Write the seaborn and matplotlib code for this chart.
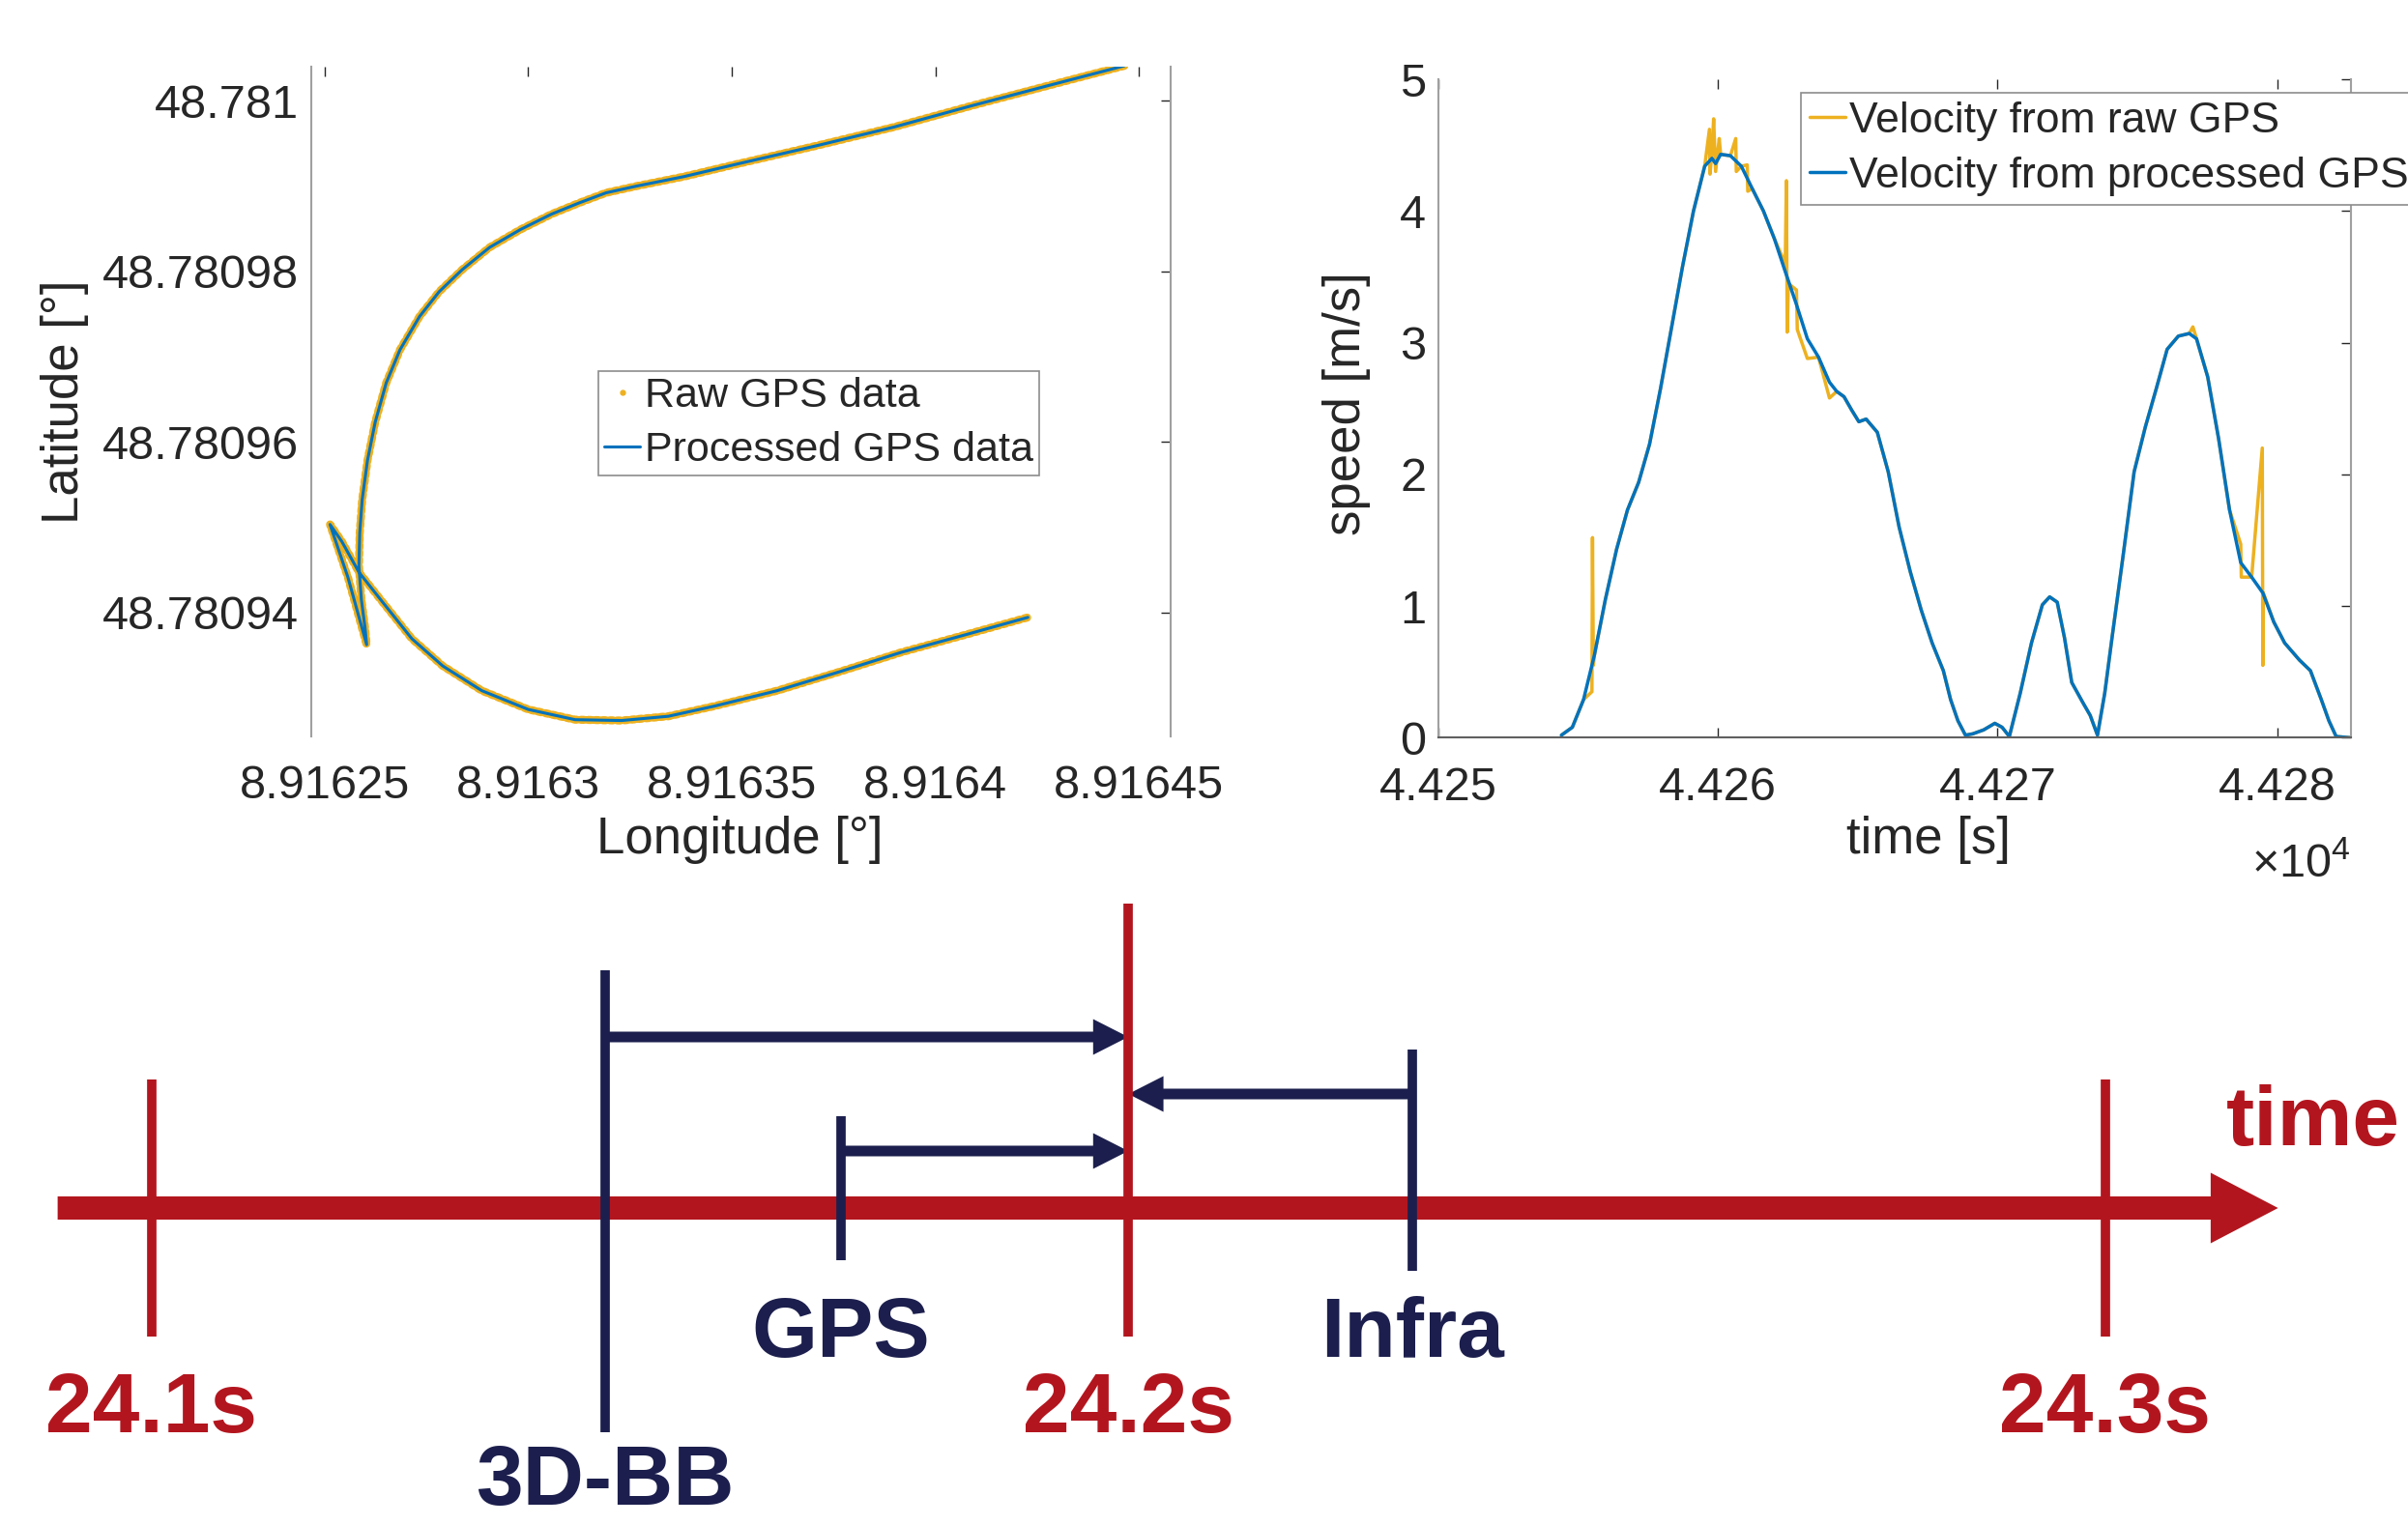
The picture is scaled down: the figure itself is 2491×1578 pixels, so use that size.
import matplotlib
matplotlib.use("Agg")
import matplotlib.pyplot as plt
import seaborn as sns
from matplotlib.lines import Line2D

# ---------------- data ----------------
# GPS track, one continuous drive (longitude / latitude in degrees)
track_lon = [8.9164464, 8.9164279, 8.9164088, 8.9163897, 8.9163706, 8.9163515, 8.9163382,
             8.9163267, 8.9163191, 8.9163124, 8.9163057, 8.9162981, 8.9162905, 8.9162838,
             8.9162781, 8.9162733, 8.9162685, 8.9162651, 8.9162624, 8.9162605, 8.9162592,
             8.9162586, 8.9162584, 8.9162590, 8.9162599, 8.9162603, 8.9162557, 8.9162513,
             8.9162542, 8.9162584, 8.9162637, 8.9162714, 8.9162790, 8.9162886, 8.9163000,
             8.9163115, 8.9163229, 8.9163344, 8.9163458, 8.9163611, 8.9163763, 8.9163916,
             8.9164069, 8.9164227]
track_lat = [48.7810041, 48.7810018, 48.7809994, 48.7809969, 48.7809947, 48.7809926, 48.7809911,
             48.7809900, 48.7809892, 48.7809880, 48.7809867, 48.7809849, 48.7809828, 48.7809802,
             48.7809776, 48.7809747, 48.7809708, 48.7809669, 48.7809623, 48.7809578, 48.7809532,
             48.7809493, 48.7809454, 48.7809415, 48.7809382, 48.7809362, 48.7809441, 48.7809503,
             48.7809483, 48.7809447, 48.7809415, 48.7809369, 48.7809337, 48.7809308, 48.7809286,
             48.7809274, 48.7809273, 48.7809278, 48.7809290, 48.7809308, 48.7809330, 48.7809353,
             48.7809373, 48.7809394]
lon_ticks = [8.91625, 8.9163, 8.91635, 8.9164, 8.91645]
lon_labels = ['8.91625', '8.9163', '8.91635', '8.9164', '8.91645']
lat_ticks = [48.78094, 48.78096, 48.78098, 48.781]
lat_labels = ['48.78094', '48.78096', '48.78098', '48.781']

# speed over time [s], [m/s]
proc_time = [44254.41, 44254.80, 44255.20, 44255.59, 44255.98, 44256.38, 44256.77, 44257.17,
             44257.56, 44257.95, 44258.35, 44258.74, 44259.13, 44259.53, 44259.79, 44259.92,
             44260.10, 44260.45, 44260.84, 44261.23, 44261.63, 44262.02, 44262.41, 44262.81,
             44263.20, 44263.60, 44263.99, 44264.25, 44264.51, 44264.78, 44265.04, 44265.30,
             44265.70, 44266.09, 44266.48, 44266.88, 44267.27, 44267.66, 44268.06, 44268.32,
             44268.58, 44268.85, 44269.11, 44269.50, 44269.90, 44270.16, 44270.42, 44270.81,
             44271.21, 44271.60, 44271.86, 44272.13, 44272.39, 44272.65, 44273.04, 44273.31,
             44273.57, 44273.83, 44274.09, 44274.49, 44274.88, 44275.28, 44275.67, 44276.06,
             44276.46, 44276.85, 44277.11, 44277.51, 44277.90, 44278.29, 44278.69, 44279.08,
             44279.48, 44279.87, 44280.26, 44280.79, 44281.18, 44281.57, 44281.84, 44282.10,
             44282.63]
proc_speed = [0.02, 0.08, 0.29, 0.63, 1.05, 1.43, 1.73, 1.94, 2.23, 2.65,
              3.12, 3.58, 4.00, 4.34, 4.40, 4.36, 4.43, 4.42, 4.34, 4.17,
              4.00, 3.79, 3.54, 3.29, 3.03, 2.89, 2.70, 2.63, 2.59, 2.49,
              2.40, 2.42, 2.32, 2.02, 1.60, 1.26, 0.97, 0.72, 0.51, 0.29,
              0.13, 0.02, 0.03, 0.06, 0.11, 0.08, 0.01, 0.34, 0.72, 1.01,
              1.07, 1.03, 0.76, 0.42, 0.27, 0.17, 0.02, 0.34, 0.76, 1.39,
              2.02, 2.36, 2.65, 2.95, 3.05, 3.07, 3.03, 2.74, 2.27, 1.73,
              1.33, 1.22, 1.10, 0.88, 0.72, 0.59, 0.51, 0.29, 0.13, 0.01,
              0.0]
raw_time = [44254.41, 44254.80, 44255.20, 44255.50, 44255.52, 44255.55, 44255.59, 44255.98,
            44256.38, 44256.77, 44257.17, 44257.56, 44257.95, 44258.35, 44258.74, 44259.13,
            44259.53, 44259.70, 44259.72, 44259.79, 44259.85, 44259.92, 44260.05, 44260.10,
            44260.45, 44260.64, 44260.66, 44260.84, 44261.05, 44261.07, 44261.23, 44261.63,
            44262.02, 44262.41, 44262.45, 44262.48, 44262.52, 44262.81, 44262.84, 44263.20,
            44263.60, 44263.99, 44264.25, 44264.51, 44264.78, 44265.04, 44265.30, 44265.70,
            44266.09, 44266.48, 44266.88, 44267.27, 44267.66, 44268.06, 44268.32, 44268.58,
            44268.85, 44269.11, 44269.50, 44269.90, 44270.16, 44270.42, 44270.81, 44271.21,
            44271.60, 44271.86, 44272.13, 44272.39, 44272.65, 44273.04, 44273.31, 44273.57,
            44273.83, 44274.09, 44274.49, 44274.88, 44275.28, 44275.67, 44276.06, 44276.46,
            44276.85, 44276.98, 44277.11, 44277.51, 44277.90, 44278.29, 44278.69, 44278.71,
            44279.08, 44279.46, 44279.48, 44279.50, 44279.87, 44280.26, 44280.79, 44281.18,
            44281.57, 44281.84, 44282.10, 44282.63]
raw_speed = [0.02, 0.08, 0.29, 0.35, 1.52, 0.55, 0.63, 1.05,
             1.43, 1.73, 1.94, 2.23, 2.65, 3.12, 3.58, 4.00,
             4.34, 4.62, 4.28, 4.45, 4.70, 4.30, 4.55, 4.43,
             4.42, 4.55, 4.30, 4.34, 4.35, 4.15, 4.17, 4.00,
             3.79, 3.60, 4.23, 3.08, 3.45, 3.40, 3.10, 2.88,
             2.89, 2.58, 2.63, 2.59, 2.49, 2.40, 2.42, 2.32,
             2.02, 1.60, 1.26, 0.97, 0.72, 0.51, 0.29, 0.13,
             0.02, 0.03, 0.06, 0.11, 0.08, 0.01, 0.34, 0.72,
             1.01, 1.07, 1.03, 0.76, 0.42, 0.27, 0.17, 0.02,
             0.34, 0.76, 1.39, 2.02, 2.36, 2.65, 2.95, 3.05,
             3.07, 3.12, 3.03, 2.74, 2.27, 1.73, 1.47, 1.22,
             1.22, 2.20, 0.55, 1.10, 0.88, 0.72, 0.59, 0.51,
             0.29, 0.13, 0.01, 0.0]
time_ticks = [44250, 44260, 44270, 44280]
time_labels = ['4.425', '4.426', '4.427', '4.428']
speed_ticks = [0, 1, 2, 3, 4, 5]

# timeline sketch
frame_times = [24.1, 24.2, 24.3]
frame_labels = ['24.1s', '24.2s', '24.3s']
sensor_names = ['3D-BB', 'GPS', 'Infra']
sensor_times = [24.1464, 24.1706, 24.2291]

# ---------------- styling ----------------
sns.set_theme(style='white')
plt.rcParams['font.family'] = ['Liberation Sans', 'DejaVu Sans']
plt.rcParams['mathtext.fontset'] = 'custom'
plt.rcParams['mathtext.rm'] = 'Liberation Sans'

ORANGE = '#EDB120'
BLUE = '#0072BD'
TXT = '#262626'
SPINE = '#a0a0a0'
RED = '#B3151E'
NAVY = '#1C1F4D'

fig = plt.figure(figsize=(24.91, 15.78), dpi=100)
fig.patch.set_facecolor('white')


def style_axes(ax, show_bottom):
    for side in ['left', 'right', 'bottom', 'top']:
        ax.spines[side].set_color(SPINE)
        ax.spines[side].set_linewidth(1.5)
    ax.spines['top'].set_visible(False)
    ax.spines['bottom'].set_visible(show_bottom)
    if show_bottom:
        ax.spines['bottom'].set_color('#606060')
    ax.tick_params(direction='in', length=7, width=1, color=TXT, labelcolor=TXT,
                   labelsize=35, top=True, right=True, bottom=show_bottom)
    ax.tick_params(axis='x', pad=21)
    ax.tick_params(axis='y', pad=9)


# timeline sketch (bottom), x in seconds, y in figure pixels from the top
ax3 = fig.add_axes([0, 0, 1, 1], zorder=-1)
ax3.set_xlim(24.0845, 24.331)
ax3.set_ylim(1578, 0)
ax3.axis('off')

ax3.arrow(24.0904, 1250, 24.3177 - 24.0904, 0, width=24, head_width=73, head_length=0.0069,
          length_includes_head=True, color=RED, lw=0)
for t, lab, top in zip(frame_times, frame_labels, [1117, 935, 1117]):
    ax3.vlines(t, top, 1383, color=RED, lw=7)
    ax3.text(t, 1482, lab, ha='center', va='baseline', fontsize=63, fontweight='bold', color=RED)
ax3.text(24.3124, 1185, 'time', ha='left', va='baseline', fontsize=63, fontweight='bold', color=RED)

for name, t, top, bot, ya, yl, va in zip(sensor_names, sensor_times,
                                          [1004, 1155, 1086], [1482, 1304, 1315],
                                          [1073, 1191, 1132], [1575, 1404, 1404],
                                          ['bottom', 'baseline', 'baseline']):
    ax3.vlines(t, top, bot, color=NAVY, lw=7)
    ax3.arrow(t, ya, frame_times[1] - t, 0, width=11, head_width=37, head_length=0.0036,
              length_includes_head=True, color=NAVY, lw=0)
    ax3.text(t, yl, name, ha='center', va=va, fontsize=63, fontweight='bold', color=NAVY)

# GPS track (top left)
ax1 = fig.add_axes([0.1291, 0.5169, 0.3571, 0.4394])
sns.lineplot(x=track_lon, y=track_lat, sort=False, estimator=None, ax=ax1, color=ORANGE,
             lw=6, linestyle=(0, (0.4, 0.5)), dash_capstyle='round')
sns.lineplot(x=track_lon, y=track_lat, sort=False, estimator=None, ax=ax1, color=BLUE, lw=2.2)
ax1.set_xlim(8.9162466, 8.9164578)
ax1.set_ylim(48.7809254, 48.781004)
ax1.set_xticks(lon_ticks, lon_labels)
ax1.set_yticks(lat_ticks, lat_labels)
style_axes(ax1, show_bottom=False)
ax1.set_xlabel('Longitude [°]', fontsize=38, color=TXT)
ax1.set_ylabel('Latitude [°]', fontsize=38, color=TXT)
ax1.xaxis.set_label_coords(0.4986, -0.118)
ax1.yaxis.set_label_coords(-0.258, 0.4994)
h1 = [Line2D([], [], color=ORANGE, marker='.', ls='none', ms=7),
      Line2D([], [], color=BLUE, lw=2.2)]
leg1 = ax1.legend(h1, ['Raw GPS data', 'Processed GPS data'], loc='upper left',
                  bbox_to_anchor=(0.2485, 0.7567), bbox_transform=fig.transFigure,
                  fontsize=31, handlelength=0.86, handletextpad=0.1, borderpad=0.15,
                  labelspacing=0.36, borderaxespad=0, fancybox=False, framealpha=1,
                  edgecolor='#8c8c8c')
leg1.get_frame().set_linewidth(1.2)

# speed (top right)
ax2 = fig.add_axes([0.5972, 0.5162, 0.3790, 0.4318])
sns.lineplot(x=raw_time, y=raw_speed, sort=False, estimator=None, ax=ax2, color=ORANGE, lw=2.5)
sns.lineplot(x=proc_time, y=proc_speed, sort=False, estimator=None, ax=ax2, color=BLUE, lw=2.5)
ax2.set_xlim(44250, 44282.62)
ax2.set_ylim(0, 5)
ax2.set_xticks(time_ticks, time_labels)
ax2.set_yticks(speed_ticks, [str(s) for s in speed_ticks])
style_axes(ax2, show_bottom=True)
ax2.set_xlabel('time [s]', fontsize=38, color=TXT)
ax2.set_ylabel('speed [m/s]', fontsize=38, color=TXT)
ax2.xaxis.set_label_coords(0.5375, -0.118)
ax2.yaxis.set_label_coords(-0.074, 0.5076)
ax2.text(1.0, -0.212, r'$\times\mathregular{10^4}$', transform=ax2.transAxes, ha='right',
         va='baseline', fontsize=35, color=TXT)
h2 = [Line2D([], [], color=ORANGE, lw=2.5), Line2D([], [], color=BLUE, lw=2.5)]
leg2 = ax2.legend(h2, ['Velocity from raw GPS', 'Velocity from processed GPS'], loc='upper left',
                  bbox_to_anchor=(0.7478, 0.9392), bbox_transform=fig.transFigure,
                  fontsize=32, handlelength=0.83, handletextpad=0.1, borderpad=0.2,
                  labelspacing=0.36, borderaxespad=0, fancybox=False, framealpha=1,
                  edgecolor='#8c8c8c')
leg2.get_frame().set_linewidth(1.2)

fig.savefig('out.png', dpi=100)
